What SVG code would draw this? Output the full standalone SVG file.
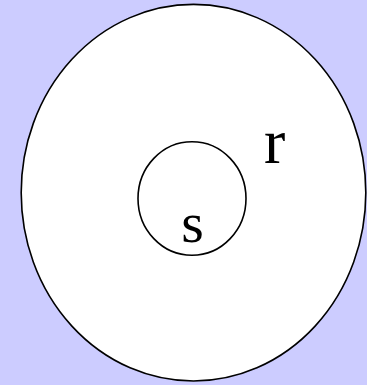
<svg xmlns="http://www.w3.org/2000/svg" width="367" height="385" viewBox="0 0 367 385">
<style>
.shape{fill:#ffffff;stroke:#000000;stroke-width:1.6}
.lbl{font-family:"Liberation Serif","Times New Roman",serif;fill:#000000}
</style>
<rect x="0" y="0" width="367" height="385" fill="#ccccff"/>
<g id="r">
<ellipse class="shape" cx="193.5" cy="192.7" rx="172.3" ry="188.3"/>
<text class="lbl" x="264" y="163" font-size="64">r</text>
</g>
<g id="s">
<ellipse class="shape" cx="192" cy="198.5" rx="54" ry="56.8"/>
<text class="lbl" x="192.5" y="242" font-size="58" text-anchor="middle">s</text>
</g>
<g id="connectors"/>
</svg>
